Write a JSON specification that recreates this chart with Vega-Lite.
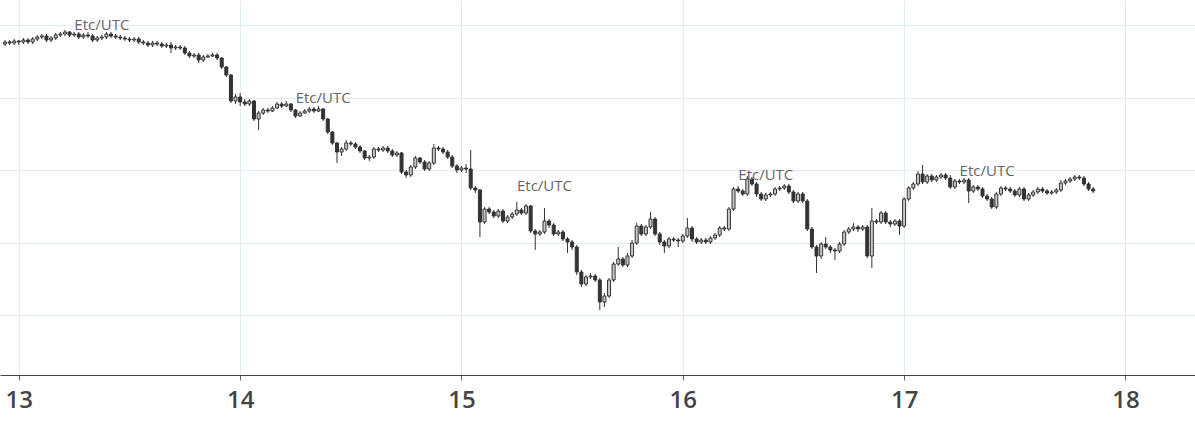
{
"$schema": "https://vega.github.io/schema/vega-lite/v6.json",
"width": 1195,
"height": 375,
"autosize": "none",
"padding": {"left": 0, "top": 0, "right": 0, "bottom": 51},
"config": {"view": {"stroke": null}, "background": "#ffffff"},
"datasets": {
"candles": [
{"t":-1.5,"o":356,"h":360,"l":354,"c":358},{"t":-1,"o":358,"h":360,"l":355,"c":357},{"t":-0.5,"o":357,"h":361,"l":355,"c":359},{"t":0,"o":359,"h":360,"l":355,"c":358},{"t":0.5,"o":358,"h":362,"l":356,"c":360},{"t":1,"o":360,"h":362,"l":356,"c":358},{"t":1.5,"o":358,"h":363,"l":356,"c":361},{"t":2,"o":361,"h":365,"l":359,"c":363},{"t":2.5,"o":363,"h":366,"l":361,"c":364},{"t":3,"o":364,"h":366,"l":358,"c":360},
{"t":3.5,"o":360,"h":364,"l":358,"c":362},{"t":4,"o":362,"h":367,"l":360,"c":365},{"t":4.5,"o":365,"h":368,"l":363,"c":366},{"t":5,"o":366,"h":370,"l":364,"c":368},{"t":5.5,"o":368,"h":369,"l":363,"c":365},{"t":6,"o":365,"h":368,"l":363,"c":366},{"t":6.5,"o":366,"h":368,"l":361,"c":363},{"t":7,"o":363,"h":367,"l":361,"c":365},{"t":7.5,"o":365,"h":368,"l":362,"c":364},{"t":8,"o":364,"h":366,"l":358,"c":360},
{"t":8.5,"o":360,"h":364,"l":358,"c":362},{"t":9,"o":362,"h":365,"l":360,"c":363},{"t":9.5,"o":363,"h":368,"l":361,"c":366},{"t":10,"o":366,"h":368,"l":362,"c":364},{"t":10.5,"o":364,"h":366,"l":361,"c":363},{"t":11,"o":363,"h":365,"l":360,"c":362},{"t":11.5,"o":362,"h":364,"l":359,"c":361},{"t":12,"o":361,"h":363,"l":358,"c":360},{"t":12.5,"o":360,"h":363,"l":358,"c":361},{"t":13,"o":361,"h":363,"l":356,"c":358},
{"t":13.5,"o":358,"h":360,"l":355,"c":357},{"t":14,"o":357,"h":359,"l":353,"c":355},{"t":14.5,"o":355,"h":359,"l":353,"c":357},{"t":15,"o":357,"h":359,"l":354,"c":356},{"t":15.5,"o":356,"h":358,"l":352,"c":354},{"t":16,"o":354,"h":357,"l":352,"c":355},{"t":16.5,"o":355,"h":358,"l":347,"c":352},{"t":17,"o":352,"h":355,"l":350,"c":353},{"t":17.5,"o":353,"h":355,"l":350,"c":352},{"t":18,"o":352,"h":354,"l":345,"c":347},
{"t":18.5,"o":347,"h":349,"l":342,"c":344},{"t":19,"o":344,"h":347,"l":342,"c":345},{"t":19.5,"o":345,"h":347,"l":337,"c":340},{"t":20,"o":340,"h":345,"l":338,"c":343},{"t":20.5,"o":343,"h":346,"l":342,"c":344},{"t":21,"o":344,"h":347,"l":343,"c":345},{"t":21.5,"o":345,"h":347,"l":340,"c":342},{"t":22,"o":342,"h":343,"l":331,"c":333},{"t":22.5,"o":333,"h":334,"l":323,"c":325},{"t":23,"o":325,"h":326,"l":297,"c":299},
{"t":23.5,"o":299,"h":306,"l":296,"c":303},{"t":24,"o":303,"h":307,"l":294,"c":298},{"t":24.5,"o":298,"h":301,"l":294,"c":296},{"t":25,"o":296,"h":301,"l":294,"c":299},{"t":25.5,"o":299,"h":300,"l":279,"c":281},{"t":26,"o":281,"h":289,"l":270,"c":287},{"t":26.5,"o":287,"h":292,"l":285,"c":290},{"t":27,"o":290,"h":292,"l":287,"c":289},{"t":27.5,"o":289,"h":294,"l":288,"c":292},{"t":28,"o":292,"h":298,"l":291,"c":296},
{"t":28.5,"o":296,"h":298,"l":292,"c":294},{"t":29,"o":294,"h":299,"l":293,"c":296},{"t":29.5,"o":296,"h":297,"l":288,"c":290},{"t":30,"o":290,"h":291,"l":282,"c":284},{"t":30.5,"o":284,"h":289,"l":283,"c":287},{"t":31,"o":287,"h":291,"l":286,"c":289},{"t":31.5,"o":289,"h":293,"l":287,"c":291},{"t":32,"o":291,"h":293,"l":287,"c":289},{"t":32.5,"o":289,"h":294,"l":288,"c":291},{"t":33,"o":291,"h":292,"l":279,"c":281},
{"t":33.5,"o":281,"h":282,"l":266,"c":268},{"t":34,"o":268,"h":269,"l":255,"c":257},{"t":34.5,"o":257,"h":258,"l":237,"c":248},{"t":35,"o":248,"h":253,"l":244,"c":251},{"t":35.5,"o":251,"h":260,"l":249,"c":257},{"t":36,"o":257,"h":259,"l":254,"c":256},{"t":36.5,"o":256,"h":258,"l":251,"c":253},{"t":37,"o":253,"h":255,"l":247,"c":249},{"t":37.5,"o":249,"h":250,"l":240,"c":242},{"t":38,"o":242,"h":245,"l":239,"c":243},
{"t":38.5,"o":243,"h":253,"l":241,"c":251},{"t":39,"o":251,"h":253,"l":248,"c":250},{"t":39.5,"o":250,"h":254,"l":248,"c":252},{"t":40,"o":252,"h":254,"l":247,"c":249},{"t":40.5,"o":249,"h":251,"l":243,"c":245},{"t":41,"o":245,"h":249,"l":243,"c":247},{"t":41.5,"o":247,"h":248,"l":226,"c":228},{"t":42,"o":228,"h":230,"l":222,"c":225},{"t":42.5,"o":225,"h":235,"l":223,"c":233},{"t":43,"o":233,"h":244,"l":231,"c":242},
{"t":43.5,"o":242,"h":243,"l":236,"c":238},{"t":44,"o":238,"h":240,"l":229,"c":231},{"t":44.5,"o":231,"h":239,"l":229,"c":237},{"t":45,"o":237,"h":256,"l":235,"c":252},{"t":45.5,"o":252,"h":254,"l":249,"c":251},{"t":46,"o":251,"h":253,"l":246,"c":248},{"t":46.5,"o":248,"h":250,"l":241,"c":243},{"t":47,"o":243,"h":245,"l":232,"c":234},{"t":47.5,"o":234,"h":236,"l":227,"c":230},{"t":48,"o":230,"h":234,"l":228,"c":232},
{"t":48.5,"o":232,"h":236,"l":227,"c":231},{"t":49,"o":231,"h":250,"l":210,"c":212},{"t":49.5,"o":212,"h":214,"l":207,"c":210},{"t":50,"o":210,"h":211,"l":163,"c":178},{"t":50.5,"o":178,"h":193,"l":176,"c":191},{"t":51,"o":191,"h":193,"l":186,"c":188},{"t":51.5,"o":188,"h":190,"l":182,"c":184},{"t":52,"o":184,"h":191,"l":182,"c":189},{"t":52.5,"o":189,"h":191,"l":177,"c":179},{"t":53,"o":179,"h":185,"l":177,"c":183},
{"t":53.5,"o":183,"h":188,"l":181,"c":186},{"t":54,"o":186,"h":198,"l":184,"c":190},{"t":54.5,"o":190,"h":192,"l":185,"c":187},{"t":55,"o":187,"h":196,"l":185,"c":194},{"t":55.5,"o":194,"h":195,"l":167,"c":169},{"t":56,"o":169,"h":171,"l":150,"c":166},{"t":56.5,"o":166,"h":170,"l":164,"c":168},{"t":57,"o":168,"h":192,"l":166,"c":179},{"t":57.5,"o":179,"h":181,"l":172,"c":175},{"t":58,"o":175,"h":177,"l":164,"c":166},
{"t":58.5,"o":166,"h":170,"l":164,"c":168},{"t":59,"o":168,"h":170,"l":159,"c":161},{"t":59.5,"o":161,"h":163,"l":147,"c":158},{"t":60,"o":158,"h":160,"l":150,"c":153},{"t":60.5,"o":153,"h":155,"l":125,"c":128},{"t":61,"o":128,"h":130,"l":113,"c":116},{"t":61.5,"o":116,"h":125,"l":114,"c":123},{"t":62,"o":123,"h":127,"l":121,"c":124},{"t":62.5,"o":124,"h":126,"l":118,"c":120},{"t":63,"o":120,"h":122,"l":90,"c":98},
{"t":63.5,"o":98,"h":107,"l":93,"c":104},{"t":64,"o":104,"h":122,"l":102,"c":120},{"t":64.5,"o":120,"h":138,"l":118,"c":136},{"t":65,"o":136,"h":153,"l":134,"c":141},{"t":65.5,"o":141,"h":143,"l":133,"c":135},{"t":66,"o":135,"h":147,"l":133,"c":144},{"t":66.5,"o":144,"h":160,"l":142,"c":157},{"t":67,"o":157,"h":177,"l":155,"c":174},{"t":67.5,"o":174,"h":176,"l":164,"c":166},{"t":68,"o":166,"h":175,"l":164,"c":173},
{"t":68.5,"o":173,"h":188,"l":171,"c":181},{"t":69,"o":181,"h":183,"l":164,"c":166},{"t":69.5,"o":166,"h":168,"l":155,"c":158},{"t":70,"o":158,"h":160,"l":147,"c":154},{"t":70.5,"o":154,"h":163,"l":152,"c":161},{"t":71,"o":161,"h":163,"l":158,"c":160},{"t":71.5,"o":160,"h":162,"l":153,"c":159},{"t":72,"o":159,"h":166,"l":157,"c":164},{"t":72.5,"o":164,"h":182,"l":162,"c":172},{"t":73,"o":172,"h":174,"l":158,"c":161},
{"t":73.5,"o":161,"h":163,"l":156,"c":158},{"t":74,"o":158,"h":162,"l":156,"c":160},{"t":74.5,"o":160,"h":162,"l":156,"c":158},{"t":75,"o":158,"h":164,"l":156,"c":162},{"t":75.5,"o":162,"h":167,"l":160,"c":165},{"t":76,"o":165,"h":174,"l":163,"c":172},{"t":76.5,"o":172,"h":174,"l":169,"c":171},{"t":77,"o":171,"h":193,"l":169,"c":191},{"t":77.5,"o":191,"h":213,"l":189,"c":211},{"t":78,"o":211,"h":214,"l":207,"c":209},
{"t":78.5,"o":209,"h":211,"l":204,"c":206},{"t":79,"o":206,"h":224,"l":204,"c":221},{"t":79.5,"o":221,"h":223,"l":214,"c":216},{"t":80,"o":216,"h":218,"l":203,"c":206},{"t":80.5,"o":206,"h":208,"l":199,"c":201},{"t":81,"o":201,"h":207,"l":199,"c":205},{"t":81.5,"o":205,"h":208,"l":203,"c":206},{"t":82,"o":206,"h":213,"l":204,"c":211},{"t":82.5,"o":211,"h":214,"l":209,"c":212},{"t":83,"o":212,"h":216,"l":210,"c":214},
{"t":83.5,"o":214,"h":216,"l":206,"c":208},{"t":84,"o":208,"h":210,"l":197,"c":199},{"t":84.5,"o":199,"h":208,"l":197,"c":206},{"t":85,"o":206,"h":208,"l":197,"c":199},{"t":85.5,"o":199,"h":201,"l":169,"c":171},{"t":86,"o":171,"h":173,"l":151,"c":153},{"t":86.5,"o":153,"h":155,"l":127,"c":144},{"t":87,"o":144,"h":158,"l":141,"c":156},{"t":87.5,"o":156,"h":163,"l":151,"c":153},{"t":88,"o":153,"h":155,"l":147,"c":150},
{"t":88.5,"o":150,"h":152,"l":140,"c":149},{"t":89,"o":149,"h":158,"l":147,"c":156},{"t":89.5,"o":156,"h":170,"l":154,"c":168},{"t":90,"o":168,"h":173,"l":166,"c":171},{"t":90.5,"o":171,"h":177,"l":169,"c":173},{"t":91,"o":173,"h":175,"l":168,"c":171},{"t":91.5,"o":171,"h":175,"l":169,"c":173},{"t":92,"o":173,"h":175,"l":142,"c":144},{"t":92.5,"o":144,"h":192,"l":132,"c":179},{"t":93,"o":179,"h":181,"l":176,"c":178},
{"t":93.5,"o":178,"h":189,"l":176,"c":187},{"t":94,"o":187,"h":189,"l":176,"c":178},{"t":94.5,"o":178,"h":180,"l":173,"c":176},{"t":95,"o":176,"h":181,"l":174,"c":179},{"t":95.5,"o":179,"h":181,"l":165,"c":174},{"t":96,"o":174,"h":203,"l":172,"c":201},{"t":96.5,"o":201,"h":214,"l":199,"c":212},{"t":97,"o":212,"h":218,"l":210,"c":216},{"t":97.5,"o":216,"h":229,"l":214,"c":226},{"t":98,"o":226,"h":235,"l":216,"c":218},
{"t":98.5,"o":218,"h":226,"l":216,"c":224},{"t":99,"o":224,"h":226,"l":218,"c":220},{"t":99.5,"o":220,"h":225,"l":218,"c":223},{"t":100,"o":223,"h":227,"l":221,"c":225},{"t":100.5,"o":225,"h":227,"l":220,"c":222},{"t":101,"o":222,"h":225,"l":211,"c":213},{"t":101.5,"o":213,"h":221,"l":211,"c":219},{"t":102,"o":219,"h":221,"l":216,"c":218},{"t":102.5,"o":218,"h":222,"l":216,"c":220},{"t":103,"o":220,"h":222,"l":197,"c":209},
{"t":103.5,"o":209,"h":215,"l":207,"c":213},{"t":104,"o":213,"h":215,"l":209,"c":211},{"t":104.5,"o":211,"h":213,"l":202,"c":204},{"t":105,"o":204,"h":206,"l":199,"c":201},{"t":105.5,"o":201,"h":203,"l":191,"c":193},{"t":106,"o":193,"h":208,"l":191,"c":206},{"t":106.5,"o":206,"h":214,"l":204,"c":212},{"t":107,"o":212,"h":214,"l":209,"c":211},{"t":107.5,"o":211,"h":213,"l":207,"c":209},{"t":108,"o":209,"h":211,"l":203,"c":205},
{"t":108.5,"o":205,"h":213,"l":203,"c":211},{"t":109,"o":211,"h":213,"l":199,"c":201},{"t":109.5,"o":201,"h":207,"l":199,"c":205},{"t":110,"o":205,"h":210,"l":203,"c":208},{"t":110.5,"o":208,"h":213,"l":206,"c":211},{"t":111,"o":211,"h":213,"l":207,"c":209},{"t":111.5,"o":209,"h":211,"l":205,"c":207},{"t":112,"o":207,"h":210,"l":205,"c":208},{"t":112.5,"o":208,"h":212,"l":206,"c":210},{"t":113,"o":210,"h":220,"l":208,"c":217},
{"t":113.5,"o":217,"h":221,"l":215,"c":219},{"t":114,"o":219,"h":223,"l":217,"c":221},{"t":114.5,"o":221,"h":225,"l":219,"c":223},{"t":115,"o":223,"h":225,"l":220,"c":222},{"t":115.5,"o":222,"h":224,"l":214,"c":216},{"t":116,"o":216,"h":218,"l":209,"c":211},{"t":116.5,"o":211,"h":213,"l":207,"c":209}
],
"labels": [
{"t":9,"p":375,"txt":"Etc/UTC"},{"t":33,"p":302,"txt":"Etc/UTC"},{"t":57,"p":214,"txt":"Etc/UTC"},{"t":81,"p":225,"txt":"Etc/UTC"},{"t":105,"p":229,"txt":"Etc/UTC"}
]
},
"layer": [
{
"data": {"name": "candles"},
"mark": {"type": "rule", "color": "#333333", "strokeWidth": 1},
"encoding": {
"x": {"field": "t", "type": "quantitative", "scale": {"domain": [-1.5, 127], "nice": false, "zero": false},
"axis": {"values": [0, 24, 48, 72, 96, 120], "labelExpr": "'' + (13 + datum.value / 24)", "title": null, "grid": true, "gridColor": "#e1ebf5", "domainColor": "#444444", "tickColor": "#666666", "tickSize": 5, "labelFont": "Open Sans", "labelFontSize": 24, "labelFontWeight": 600, "labelColor": "#444444", "labelPadding": 8}},
"y": {"field": "l", "type": "quantitative", "scale": {"domain": [25, 400], "nice": false, "zero": false},
"axis": {"values": [85, 157.5, 230, 302.5, 375], "labels": false, "ticks": false, "domain": false, "title": null, "grid": true, "gridColor": "#e1ebf5"}},
"y2": {"field": "h"}
}
},
{
"data": {"name": "candles"},
"mark": {"type": "bar", "size": 3, "strokeWidth": 1, "stroke": "#333333"},
"encoding": {
"x": {"field": "t", "type": "quantitative"},
"y": {"field": "o", "type": "quantitative"},
"y2": {"field": "c"},
"fill": {"condition": {"test": "datum.c > datum.o", "value": "#c8c8c8"}, "value": "#333333"}
}
},
{
"data": {"name": "labels"},
"mark": {"type": "text", "font": "Open Sans", "fontSize": 15, "color": "#666666", "align": "center", "baseline": "middle"},
"encoding": {
"x": {"field": "t", "type": "quantitative"},
"y": {"field": "p", "type": "quantitative"},
"text": {"field": "txt"}
}
}
]
}
